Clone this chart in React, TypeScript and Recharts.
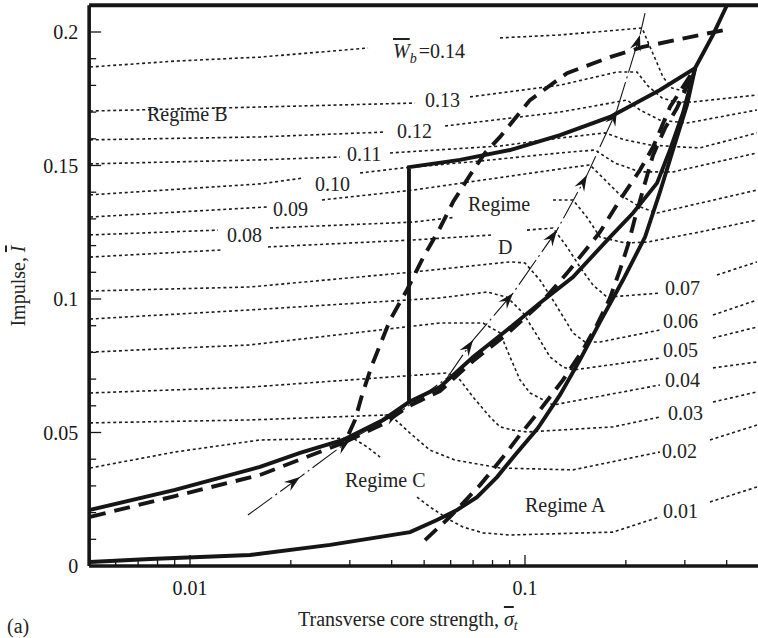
import React from 'react';
import { ComposedChart, Line, XAxis, YAxis, ReferenceLine } from 'recharts';

type Pt = [number, number] | null;

const FONT = '"Liberation Serif", "Times New Roman", serif';
const INK = '#161616';

const X_TICKS = [0.006, 0.007, 0.008, 0.009, 0.01, 0.02, 0.03, 0.04, 0.05, 0.06, 0.07, 0.08, 0.09, 0.1, 0.2, 0.3, 0.4];
const Y_TICKS = [0, 0.01, 0.02, 0.03, 0.04, 0.05, 0.06, 0.07, 0.08, 0.09, 0.1, 0.11, 0.12, 0.13, 0.14, 0.15, 0.16, 0.17, 0.18, 0.19, 0.2];
const X_LABELS: Record<string, string> = { '0.01': '0.01', '0.1': '0.1' };
const Y_LABELS: Record<string, string> = { '0': '0', '0.05': '0.05', '0.1': '0.1', '0.15': '0.15', '0.2': '0.2' };

// regime boundaries (solid)
const BOUND_A: Pt[] = [
  [0.00503, 0.0015], [0.0076, 0.0026], [0.0151, 0.0041], [0.0262, 0.0079], [0.0454, 0.0127],
  [0.0546, 0.0172], [0.0627, 0.021], [0.0719, 0.0258], [0.0825, 0.0333], [0.0934, 0.0416],
  [0.1093, 0.0517], [0.1272, 0.0641], [0.1459, 0.0772], [0.1675, 0.0914], [0.1961, 0.1071],
  [0.2282, 0.1232], [0.2529, 0.1401], [0.2765, 0.1558], [0.3045, 0.1727], [0.322, 0.1865],
  [0.364, 0.1989], [0.401, 0.2101], [0.418, 0.2152],
];
const BOUND_CD: Pt[] = [
  [0.00503, 0.021], [0.00902, 0.0285], [0.01618, 0.0371], [0.0213, 0.0424], [0.02862, 0.0472],
  [0.03769, 0.0547], [0.04505, 0.0614], [0.05574, 0.067], [0.06997, 0.0783], [0.08838, 0.0884],
  [0.1108, 0.0985], [0.1391, 0.1082], [0.1794, 0.1232], [0.2101, 0.1322], [0.2478, 0.1434],
  [0.2709, 0.1558], [0.2962, 0.1697], [0.322, 0.1865],
];
const BOUND_D: Pt[] = [
  [0.04505, 0.0614], [0.04505, 0.1494], [0.06397, 0.1521], [0.09021, 0.1558], [0.1272, 0.1614],
  [0.1794, 0.1682], [0.2529, 0.1783], [0.322, 0.1865],
];

// regime boundaries (dashed)
const DASH_BD: Pt[] = [
  [0.00503, 0.0184], [0.00902, 0.0262], [0.01618, 0.0341], [0.02903, 0.0464], [0.03109, 0.0547],
  [0.03262, 0.064], [0.03495, 0.0753], [0.03954, 0.0921], [0.04443, 0.1034], [0.04961, 0.1154],
  [0.05574, 0.1266], [0.06097, 0.1363], [0.06853, 0.1464], [0.07598, 0.1547], [0.08422, 0.1607],
  [0.1035, 0.1745], [0.1335, 0.1846], [0.1794, 0.1906], [0.225, 0.1944], [0.333, 0.1989], [0.4064, 0.2011],
];
const DASH_CD: Pt[] = [
  [0.02903, 0.0464], [0.03769, 0.0532], [0.04505, 0.0599], [0.05574, 0.0655], [0.06997, 0.0768],
  [0.08838, 0.0869], [0.1108, 0.0981], [0.1335, 0.1097], [0.1675, 0.1251], [0.1921, 0.1371],
  [0.2204, 0.1483], [0.2411, 0.1569], [0.2709, 0.1719], [0.322, 0.1865],
];
const DASH_A: Pt[] = [
  [0.0503, 0.0097], [0.0597, 0.0184], [0.0734, 0.0303], [0.086, 0.0408], [0.0966, 0.0491],
  [0.1108, 0.0584], [0.1299, 0.0697], [0.1489, 0.0809], [0.164, 0.0903], [0.1794, 0.1004],
  [0.1921, 0.1109], [0.203, 0.1202], [0.213, 0.1303], [0.225, 0.1408], [0.2411, 0.1539],
  [0.2618, 0.164], [0.2843, 0.1715], [0.322, 0.1865],
];

// loading path with arrows
const FLOW: Pt[] = [
  [0.01489, 0.0191], [0.0213, 0.0333], [0.03003, 0.0472], [0.04235, 0.0577], [0.05851, 0.0704],
  [0.06997, 0.0846], [0.09209, 0.1022], [0.1246, 0.1258], [0.1531, 0.1464], [0.1882, 0.1708],
  [0.2204, 0.1989], [0.2282, 0.2071],
];
const FLOW_TIPS = [1, 2, 3, 5, 6, 7, 8, 9, 10];

// W_b contours, null = break for a label
const W01: Pt[] = [
  [0.00503, 0.0367], [0.00902, 0.0427], [0.01618, 0.0472], [0.03066, 0.0479], [0.03377, 0.0446], [0.03692, 0.0408], null,
  [0.0476, 0.0258], [0.05204, 0.0221], [0.05972, 0.0172], [0.06532, 0.0146], [0.07494, 0.0124], [0.09021, 0.0116],
  [0.1831, 0.0127], [0.2529, 0.0184], null, [0.3566, 0.024], [0.4926, 0.0296],
];
const W02: Pt[] = [
  [0.00503, 0.0536], [0.0151, 0.0547], [0.03954, 0.0566], [0.04536, 0.0498], [0.05204, 0.0434], [0.06181, 0.0397],
  [0.08422, 0.0367], [0.1391, 0.036], [0.2529, 0.0427], null, [0.3566, 0.0472], [0.4926, 0.0528],
];
const W03: Pt[] = [
  [0.00503, 0.0648], [0.0151, 0.067], [0.05851, 0.0723], [0.06397, 0.0697], [0.06997, 0.0633], [0.07861, 0.0558],
  [0.08422, 0.0521], [0.09209, 0.0509], [0.1014, 0.0502], [0.1831, 0.0521], [0.2529, 0.0558], null,
  [0.364, 0.0614], [0.4926, 0.0652],
];
const W04: Pt[] = [
  [0.00503, 0.0801], [0.0151, 0.0828], [0.05574, 0.091], [0.07494, 0.091], [0.08422, 0.0873], [0.09021, 0.0783],
  [0.09662, 0.0697], [0.1035, 0.0648], [0.1212, 0.0603], [0.2529, 0.0678], null, [0.364, 0.0742], [0.4926, 0.0764],
];
const W05: Pt[] = [
  [0.00503, 0.0925], [0.0151, 0.0959], [0.05574, 0.1004], [0.07703, 0.1026], [0.08838, 0.1007], [0.09863, 0.0948],
  [0.1108, 0.0846], [0.1187, 0.0783], [0.1299, 0.0745], [0.1391, 0.0734], [0.2529, 0.0779], null,
  [0.364, 0.0854], [0.4926, 0.0895],
];
const W06: Pt[] = [
  [0.00503, 0.103], [0.0151, 0.1045], [0.04631, 0.1101], [0.09021, 0.1139], [0.1, 0.1135], [0.1108, 0.1071],
  [0.1212, 0.0996], [0.1391, 0.0873], [0.151, 0.0839], [0.1675, 0.0839], [0.2529, 0.0884], null,
  [0.364, 0.094], [0.4926, 0.0996],
];
const W07: Pt[] = [
  [0.00503, 0.1157], [0.01255, 0.1184], null, [0.01709, 0.1195], [0.04631, 0.1221], [0.08027, 0.124], null,
  [0.1014, 0.1258], [0.1212, 0.1266], [0.1335, 0.1195], [0.1459, 0.112], [0.1596, 0.1052], [0.1757, 0.1007],
  [0.2529, 0.1022], null, [0.3741, 0.109], [0.4926, 0.1139],
];
const W08: Pt[] = [
  [0.00503, 0.124], [0.01212, 0.1258], null, [0.01733, 0.1266], [0.04631, 0.1288], [0.06181, 0.1306], null,
  [0.1212, 0.1371], [0.1391, 0.1371], [0.1531, 0.1306], [0.1675, 0.1232], [0.1988, 0.121], [0.2313, 0.1213],
  [0.333, 0.1251], [0.4926, 0.1296],
];
const W09: Pt[] = [
  [0.00503, 0.1307], [0.01709, 0.1345], null, [0.02477, 0.1371], [0.04631, 0.1408], [0.1391, 0.1494],
  [0.1563, 0.1502], [0.1733, 0.1446], [0.1921, 0.139], [0.2204, 0.1345], [0.2478, 0.1322], [0.4926, 0.1408],
];
const W10: Pt[] = [
  [0.00503, 0.139], [0.01618, 0.1431], [0.02174, 0.1453], null, [0.03218, 0.1472], [0.04322, 0.1491],
  [0.06853, 0.1513], [0.1272, 0.1547], [0.1618, 0.1558], [0.1856, 0.1509], [0.2204, 0.1476], [0.2765, 0.1476],
  [0.4926, 0.1547],
];
const W11: Pt[] = [
  [0.00503, 0.1506], [0.01618, 0.1521], [0.02804, 0.1532], null, [0.03954, 0.1547], [0.08422, 0.1573],
  [0.1272, 0.1603], [0.1733, 0.1622], [0.1988, 0.1596], [0.2362, 0.1577], [0.2962, 0.1569], [0.333, 0.1566],
  [0.4926, 0.1622],
];
const W12: Pt[] = [
  [0.00503, 0.1596], [0.01618, 0.1607], [0.03769, 0.1625], null, [0.05771, 0.1648], [0.1272, 0.17],
  [0.2016, 0.1745], [0.2204, 0.1708], [0.2529, 0.167], [0.3045, 0.1659], [0.4926, 0.1708],
];
const W13: Pt[] = [
  [0.00503, 0.1704], [0.01618, 0.1719], [0.04694, 0.1734], null, [0.06853, 0.1757], [0.1272, 0.1801],
  [0.1882, 0.185], [0.2159, 0.185], [0.2329, 0.1798], [0.2564, 0.1753], [0.2804, 0.1738], [0.3173, 0.1738],
  [0.4926, 0.1764],
];
const W14: Pt[] = [
  [0.00503, 0.1869], [0.00902, 0.1891], [0.01618, 0.1906], [0.034, 0.194], null, [0.08422, 0.1978],
  [0.1272, 0.1989], [0.2236, 0.2015], [0.2362, 0.1944], [0.2478, 0.1884], [0.2582, 0.1831], [0.2747, 0.179],
  [0.3066, 0.1775],
];
const CONTOURS = [W01, W02, W03, W04, W05, W06, W07, W08, W09, W10, W11, W12, W13, W14];

function toRows(pts: Pt[], tips: number[] = []) {
  let lastX = 0;
  return pts.map((p, i) => {
    if (!p) return { x: lastX, y: null, tip: false };
    lastX = p[0];
    return { x: p[0], y: p[1], tip: tips.includes(i) };
  });
}

function XTick(props: any) {
  const { x, y, payload } = props;
  const label = X_LABELS[String(payload.value)];
  return (
    <g>
      <line x1={x} x2={x} y1={y} y2={y - (label ? 11 : 6)} stroke={INK} strokeWidth={1.3} />
      {label && (
        <text x={x} y={y + 29} textAnchor="middle" fontFamily={FONT} fontSize={20} fill={INK}>
          {label}
        </text>
      )}
    </g>
  );
}

function YTick(props: any) {
  const { x, y, payload } = props;
  const label = Y_LABELS[String(payload.value)];
  return (
    <g>
      <line x1={x} x2={x + (label ? 12 : 7)} y1={y} y2={y} stroke={INK} strokeWidth={1.3} />
      {label && (
        <text x={x - 11} y={y + 7} textAnchor="end" fontFamily={FONT} fontSize={20} fill={INK}>
          {label}
        </text>
      )}
    </g>
  );
}

// arrowheads sit on the flagged points, pointing along the path
function makeArrowDot() {
  let prev: { x: number; y: number } | null = null;
  return (props: any) => {
    const { cx, cy, index, payload } = props;
    if (index === 0) prev = null;
    const p = prev;
    prev = { x: cx, y: cy };
    if (!payload?.tip || !p) return <g key={`ad${index}`} />;
    const ang = (Math.atan2(cy - p.y, cx - p.x) * 180) / Math.PI;
    return (
      <path
        key={`ad${index}`}
        d="M0,0 L-16,-5.5 L-10.5,0 L-16,5.5 Z"
        fill={INK}
        transform={`translate(${cx},${cy}) rotate(${ang})`}
      />
    );
  };
}

const t = { fontFamily: FONT, fontSize: 20, fill: '#222' };

export default function App() {
  const arrowDot = makeArrowDot();
  return (
    <div style={{ position: 'absolute', left: 0, top: 0, width: 758, height: 638, overflow: 'hidden', background: '#fff' }}>
      <ComposedChart width={770} height={638} margin={{ top: 5.3, right: 10.85, left: 0, bottom: 0 }}>
        <XAxis
          dataKey="x"
          type="number"
          scale="log"
          domain={[0.005, 0.5]}
          allowDataOverflow
          ticks={X_TICKS}
          interval={0}
          height={72}
          tickSize={0}
          tickMargin={0}
          tickLine={false}
          axisLine={{ stroke: INK, strokeWidth: 3.6 }}
          tick={<XTick />}
        />
        <YAxis
          type="number"
          domain={[0, 0.21]}
          allowDataOverflow
          ticks={Y_TICKS}
          interval={0}
          width={89.15}
          tickSize={0}
          tickMargin={0}
          tickLine={false}
          axisLine={{ stroke: INK, strokeWidth: 3.6 }}
          tick={<YTick />}
        />
        <ReferenceLine y={0.21} stroke={INK} strokeWidth={4} />

        {CONTOURS.map((c, i) => (
          <Line
            key={`w${i}`}
            data={toRows(c)}
            dataKey="y"
            type="linear"
            stroke="#1c1c1c"
            strokeWidth={1.6}
            strokeDasharray="3 2.8"
            dot={false}
            isAnimationActive={false}
          />
        ))}

        {[BOUND_A, BOUND_CD, BOUND_D].map((b, i) => (
          <Line
            key={`b${i}`}
            data={toRows(b)}
            dataKey="y"
            type="linear"
            stroke={INK}
            strokeWidth={3.9}
            dot={false}
            isAnimationActive={false}
          />
        ))}

        {[DASH_BD, DASH_CD, DASH_A].map((b, i) => (
          <Line
            key={`d${i}`}
            data={toRows(b)}
            dataKey="y"
            type="linear"
            stroke={INK}
            strokeWidth={3.9}
            strokeDasharray="16 9"
            dot={false}
            isAnimationActive={false}
          />
        ))}

        <Line
          data={toRows(FLOW, FLOW_TIPS)}
          dataKey="y"
          type="linear"
          stroke={INK}
          strokeWidth={1.1}
          strokeDasharray="30 4 2 4"
          dot={arrowDot}
          isAnimationActive={false}
        />
      </ComposedChart>

      <svg width={758} height={638} style={{ position: 'absolute', left: 0, top: 0, pointerEvents: 'none' }}>
        <text x={147} y={121} {...t}>Regime B</text>
        <text x={393} y={58} {...t}>
          <tspan fontStyle="italic" textDecoration="overline">W</tspan>
          <tspan fontStyle="italic" fontSize={14} dy={5}>b</tspan>
          <tspan dy={-5} dx={2}>=0.14</tspan>
        </text>
        <text x={425} y={107} {...t}>0.13</text>
        <text x={397} y={138} {...t}>0.12</text>
        <text x={347} y={161} {...t}>0.11</text>
        <text x={315} y={191} {...t}>0.10</text>
        <text x={273} y={216} {...t}>0.09</text>
        <text x={227} y={242} {...t}>0.08</text>
        <text x={468} y={211} {...t}>Regime</text>
        <text x={498} y={254} {...t}>D</text>
        <text x={345} y={487} {...t}>Regime C</text>
        <text x={525} y={512} {...t}>Regime A</text>
        <text x={665} y={295} {...t}>0.07</text>
        <text x={663} y={328} {...t}>0.06</text>
        <text x={663} y={357} {...t}>0.05</text>
        <text x={665} y={387} {...t}>0.04</text>
        <text x={668} y={420} {...t}>0.03</text>
        <text x={662} y={458} {...t}>0.02</text>
        <text x={663} y={518} {...t}>0.01</text>
        <text x={7} y={633} {...t}>(a)</text>
        <text x={298} y={626} {...t}>
          Transverse core strength,{' '}
          <tspan fontStyle="italic" textDecoration="overline">σ</tspan>
          <tspan fontStyle="italic" fontSize={14} dy={4}>t</tspan>
        </text>
        <text transform="translate(25,286) rotate(-90)" textAnchor="middle" {...t}>
          Impulse, <tspan fontStyle="italic" textDecoration="overline">I</tspan>
        </text>
      </svg>
    </div>
  );
}
